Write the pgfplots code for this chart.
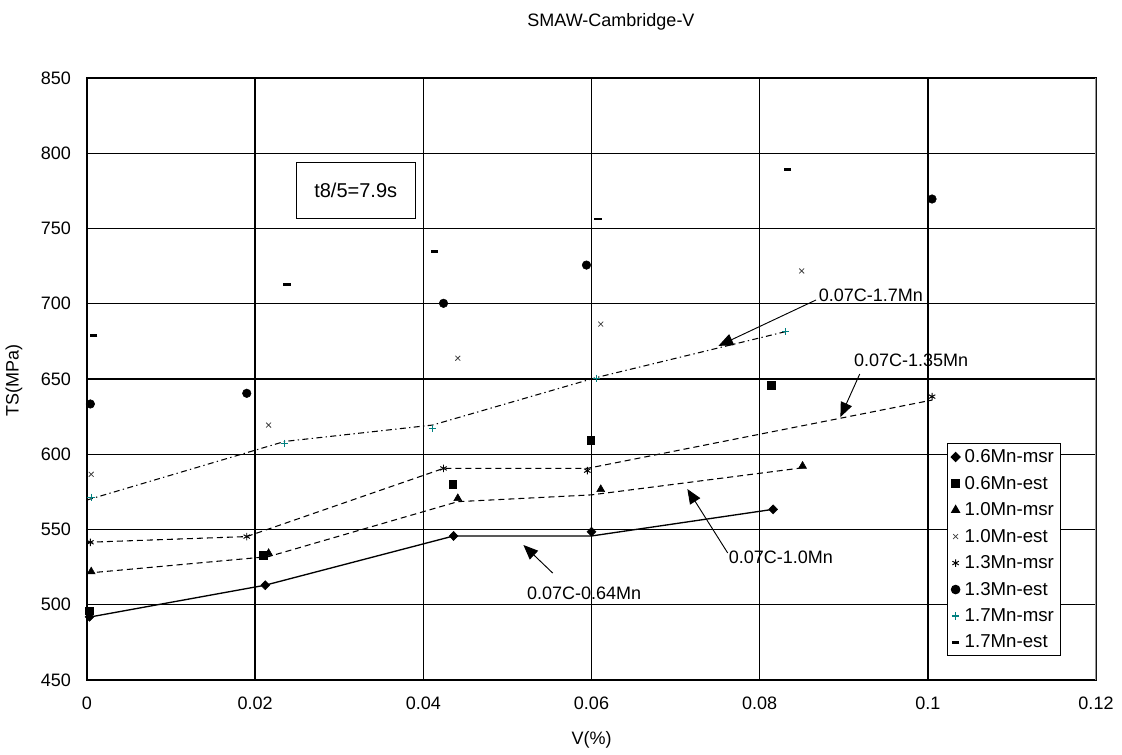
\documentclass[border=0pt]{standalone}
\usepackage{fontspec}
\setmainfont{Liberation Sans}
\usepackage{pgfplots}
\pgfplotsset{compat=1.18}
\usetikzlibrary{arrows.meta}
\definecolor{plusteal}{RGB}{0,128,128}
\definecolor{frame}{RGB}{150,150,150}

\begin{document}
\begin{tikzpicture}[font=\fontsize{13.5}{16}\selectfont]
\path[use as bounding box] (-65.25pt,-55.5pt) rectangle (776.25pt,510pt);
\begin{axis}[
  at={(0,0)}, anchor=south west,
  scale only axis, width=756.75pt, height=451.5pt,
  xmin=0, xmax=0.12, ymin=450, ymax=850,
  xtick={0,0.02,0.04,0.06,0.08,0.1,0.12},
  xticklabels={0,0.02,0.04,0.06,0.08,0.1,0.12},
  ytick={450,500,550,600,650,700,750,800,850},
  yticklabels={450,500,550,600,650,700,750,800,850},
  /pgf/number format/assume math mode=true,
  major tick length=0pt,
  grid=major,
  grid style={black, line width=1.05pt},
  axis line style={black, line width=1.05pt},
  xticklabel style={yshift=-9.5pt},
  yticklabel style={xshift=-8.5pt},
  xlabel={V(\%)}, ylabel={TS(MPa)},
  xlabel style={at={(axis description cs:0.5,-0.0997)}, anchor=center},
  ylabel style={at={(axis description cs:-0.0723,0.498)}, anchor=center},
  legend style={at={(rel axis cs:0.852,0.3937)}, anchor=north west,
    draw=black, line width=0.8pt, fill=white,
    row sep=4.6pt, inner xsep=3pt, inner ysep=2.5pt,
    font=\fontsize{14}{16}\selectfont,
    /tikz/every odd column/.append style={column sep=1.5pt}},
  legend cell align=left,
]

% trend lines for each Mn level
\addplot[black, line width=1pt, forget plot] coordinates {
  (0,491.5) (0.0212,513) (0.0436,545.7) (0.0600,545.7) (0.0816,563.4)};
\addplot[black, line width=0.8pt, dash pattern=on 4.5pt off 3pt, forget plot] coordinates {
  (0,521) (0.0216,532) (0.0441,568.5) (0.0600,573) (0.0851,591)};
\addplot[black, line width=0.8pt, dash pattern=on 4.5pt off 3pt, forget plot] coordinates {
  (0,541.5) (0.0190,545.3) (0.0424,590.6) (0.0595,590.6) (0.1005,636)};
\addplot[black, line width=0.8pt, dash pattern=on 4.5pt off 2.5pt on 1pt off 2.5pt, forget plot] coordinates {
  (0,569.6) (0.0235,608.5) (0.0411,619.4) (0.0606,651) (0.0831,681.5)};

% measured and estimated points
\addplot[only marks, mark=diamond*, mark size=3.4pt, black, mark options={xscale=1.3}] coordinates {
  (0.0003,492) (0.0212,513) (0.0436,545.7) (0.0600,548.5) (0.0816,563.4)};
\addlegendentry{0.6Mn-msr}
\addplot[only marks, mark=square*, mark size=2.9pt, black] coordinates {
  (0.0003,496) (0.0210,533) (0.0435,580) (0.0599,609.5) (0.0814,645.8)};
\addlegendentry{0.6Mn-est}
\addplot[only marks, mark=triangle*, mark size=3.4pt, black] coordinates {
  (0.0005,522) (0.0216,534.2) (0.0441,570.7) (0.0611,576.7) (0.0851,592.2)};
\addlegendentry{1.0Mn-msr}
\addplot[only marks, mark=x, mark size=2.6pt, black!75, mark options={line width=0.6pt}] coordinates {
  (0.0005,586.7) (0.0216,619.4) (0.0441,663.8) (0.0611,686.5) (0.0850,721.8)};
\addlegendentry{1.0Mn-est}
\addplot[only marks, mark=asterisk, mark size=2.8pt, black, mark options={line width=0.7pt}] coordinates {
  (0.0004,541.5) (0.0190,545.3) (0.0424,590.6) (0.0595,589.1) (0.1005,638.3)};
\addlegendentry{1.3Mn-msr}
\addplot[only marks, mark=*, mark size=3.2pt, black] coordinates {
  (0.0004,633.4) (0.0190,640.5) (0.0424,700.3) (0.0594,725.7) (0.1005,769.6)};
\addlegendentry{1.3Mn-est}
\addplot[only marks, mark=+, mark size=2.8pt, plusteal, mark options={line width=0.95pt}] coordinates {
  (0.0005,571.4) (0.0235,607.3) (0.0411,617.2) (0.0606,650.4) (0.0831,681.5)};
\addlegendentry{1.7Mn-msr}
\addplot[only marks, mark=-, mark size=2.8pt, black, mark options={line width=2.2pt}] coordinates {
  (0.0008,679.2) (0.0238,712.5) (0.0413,735) (0.0608,756.3) (0.0833,788.9)};
\addlegendentry{1.7Mn-est}

% right frame edge in grey
\draw[frame, line width=1.05pt] (rel axis cs:1,0) -- (rel axis cs:1,1);

% cooling time box
\node[draw, line width=0.8pt, fill=white, minimum width=89pt, minimum height=41.7pt,
  font=\fontsize{15}{17}\selectfont]
  at (axis cs:0.03196,775.25) {t8/5=7.9s};

% labelled arrows pointing at each trend line
\node[anchor=west, inner sep=0] at (axis cs:0.0870,705.8) {0.07C-1.7Mn};
\draw[-{Triangle[length=11pt,width=9pt]}, line width=0.7pt]
  (axis cs:0.0867,702.5) -- (axis cs:0.0751,672);
\node[anchor=west, inner sep=0] at (axis cs:0.0912,662.6) {0.07C-1.35Mn};
\draw[-{Triangle[length=11pt,width=9pt]}, line width=0.7pt]
  (axis cs:0.0919,653.3) -- (axis cs:0.0896,624.7);
\node[anchor=west, inner sep=0] at (axis cs:0.0763,531.7) {0.07C-1.0Mn};
\draw[-{Triangle[length=11pt,width=9pt]}, line width=0.7pt]
  (axis cs:0.0762,534.4) -- (axis cs:0.0714,576.9);
\node[anchor=west, inner sep=0] at (axis cs:0.0523,507.8) {0.07C-0.64Mn};
\draw[-{Triangle[length=11pt,width=9pt]}, line width=0.7pt]
  (axis cs:0.0554,521) -- (axis cs:0.0519,539.7);
\end{axis}
\node at (393pt,493.5pt) {SMAW-Cambridge-V};
\end{tikzpicture}
\end{document}
